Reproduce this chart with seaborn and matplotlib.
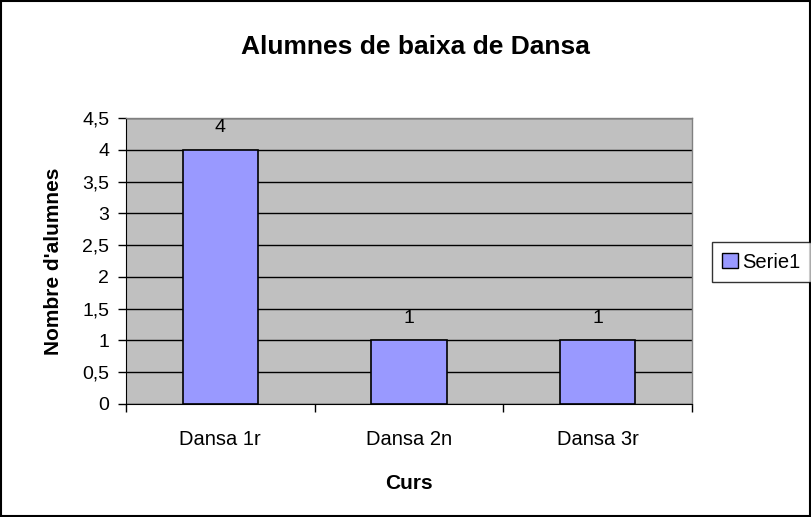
import numpy as np
import pandas as pd
import matplotlib
matplotlib.use("Agg")
import matplotlib.pyplot as plt
import seaborn as sns
from matplotlib.ticker import FuncFormatter, MultipleLocator
from matplotlib.patches import Rectangle, Patch

# Dades del gràfic
cursos = ["Dansa 1r", "Dansa 2n", "Dansa 3r"]
alumnes = [4, 1, 1]
serie = "Serie1"

df = pd.DataFrame({"curs": cursos, "alumnes": alumnes})

sns.set_style("white")
plt.rcParams["font.family"] = ["Liberation Sans", "DejaVu Sans"]
plt.rcParams["text.color"] = "black"
plt.rcParams["axes.labelcolor"] = "black"
plt.rcParams["xtick.color"] = "black"
plt.rcParams["ytick.color"] = "black"

fig = plt.figure(figsize=(8.12, 5.17), dpi=100)
ax = fig.add_axes([126 / 812, 1 - 404 / 517, 566 / 812, 286 / 517])

sns.barplot(
    data=df,
    x="curs",
    y="alumnes",
    color="#9999FF",
    saturation=1,
    width=0.4,
    edgecolor="black",
    linewidth=1.2,
    ax=ax,
)

ax.set_facecolor("#C0C0C0")
ax.set_ylim(0, 4.5)
ax.set_xlim(-0.5, 2.5)
ax.yaxis.set_major_locator(MultipleLocator(0.5))
ax.yaxis.set_major_formatter(
    FuncFormatter(lambda v, p: ("%g" % v).replace(".", ","))
)
ax.grid(axis="y", color="black", linewidth=1)
ax.set_axisbelow(True)

# eixos a l'estil Excel
for side in ["top", "right"]:
    ax.spines[side].set_color("#808080")
    ax.spines[side].set_linewidth(1)
ax.spines["left"].set_color("black")
ax.spines["bottom"].set_color("black")

ax.tick_params(axis="y", length=6, width=1, color="black", direction="out",
               labelsize=14, pad=6, left=True, labelcolor="black")
ax.set_xticks([-0.5, 0.5, 1.5, 2.5], minor=True)
ax.tick_params(axis="x", which="minor", length=6, width=1, color="black",
               direction="out", bottom=True)
ax.tick_params(axis="x", which="major", length=0, labelsize=14.5, pad=19,
               labelcolor="black")

for container in ax.containers:
    ax.bar_label(container, fmt="%g", padding=10, fontsize=14, color="black")

fig.text(415 / 812, 1 - 47 / 517, "Alumnes de baixa de Dansa", fontsize=19,
         fontweight="bold", ha="center", va="center", color="black")
ax.set_xlabel("Curs", fontsize=15, fontweight="bold", labelpad=18, color="black")
ax.set_ylabel("Nombre d'alumnes", fontsize=15, fontweight="bold", labelpad=14,
              color="black")

legend_handle = Patch(facecolor="#9999FF", edgecolor="black", label=serie)
leg = fig.legend(
    handles=[legend_handle],
    loc="center left",
    bbox_to_anchor=(712 / 812, 1 - 262 / 517),
    fontsize=14.5,
    frameon=True,
    fancybox=False,
    handlelength=0.8,
    handleheight=0.8,
    handletextpad=0.2,
    borderpad=0.5,
    borderaxespad=0,
    labelcolor="black",
)
leg.get_frame().set_edgecolor("black")
leg.get_frame().set_linewidth(1)

fig.patches.append(Rectangle((0.001, 0.001), 0.997, 0.997, transform=fig.transFigure,
                             fill=False, edgecolor="black", linewidth=1.5))

fig.savefig("out.png", dpi=100)
